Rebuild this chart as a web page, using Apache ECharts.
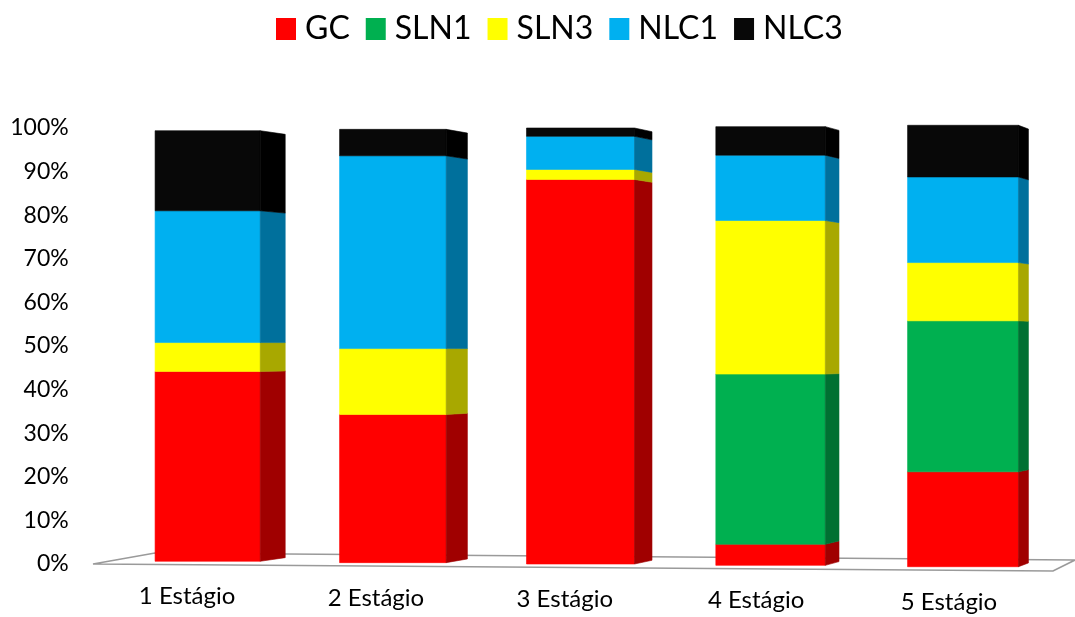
<!DOCTYPE html>
<html>
<head>
<meta charset="utf-8">
<script src="https://cdn.jsdelivr.net/npm/echarts@6/dist/echarts.min.js"></script>
<style>
  html, body { margin: 0; padding: 0; background: #fff; }
  #chart { width: 1075px; height: 617px; }
</style>
</head>
<body>
<div id="chart"></div>
<script>
// Categories (stages) and share of each formulation, in percent
const categories = ['1 Estágio', '2 Estágio', '3 Estágio', '4 Estágio', '5 Estágio'];
const GC   = [44.1, 34.2, 88.2,  4.8, 21.5];
const SLN1 = [ 0.0,  0.0,  0.0, 38.8, 34.2];
const SLN3 = [ 6.7, 15.2,  2.3, 35.0, 13.2];
const NLC1 = [30.6, 44.5,  7.6, 14.9, 19.4];
const NLC3 = [18.6,  6.1,  1.9,  6.5, 11.7];

const seriesNames = ['GC', 'SLN1', 'SLN3', 'NLC1', 'NLC3'];
const seriesValues = [GC, SLN1, SLN3, NLC1, NLC3];
const frontColors = ['#ff0000', '#00b050', '#ffff00', '#00b0f0', '#080808'];
const sideColors  = ['#a00000', '#007032', '#a8a800', '#00709c', '#000000'];

const FONT = 'Lato, "Open Sans", sans-serif';

// Running stack bases per category
const bases = categories.map(() => 0);
const stacked = seriesValues.map(vals => vals.map((v, i) => {
  const b = bases[i];
  bases[i] += v;
  return [i, v, b];
}));

// Draws one stacked segment as a box with a receding right side
function renderBox(front, side) {
  return function (params, api) {
    const idx = api.value(0), val = api.value(1), base = api.value(2);
    if (!val) return;
    const cs = params.coordSys;
    const band = api.size([1, 0])[0];
    const p0 = api.coord([idx, base]);
    const p1 = api.coord([idx, base + val]);
    const cy = cs.y + cs.height / 2;
    const t = idx - 2;
    const k = 1 + t * 0.0062;                    // perspective growth to the right
    const proj = (y, s) => cy + (y - cy) * k * s;
    const w = band * 0.572 * (1 + t * 0.0133);
    const cx = p0[0] + band * (0.0064 * t * t - 0.0122);
    const xl = cx - w / 2, xr = xl + w;
    const d = band * (0.1324 - 0.0199 * idx);    // visible depth of the side face
    const yB = proj(p0[1], 1), yT = proj(p1[1], 1);
    const yBb = proj(p0[1], 0.983), yTb = proj(p1[1], 0.983);
    return {
      type: 'group',
      children: [
        { type: 'rect', shape: { x: xl, y: yT, width: w, height: yB - yT },
          style: { fill: front, stroke: front, lineWidth: 0.6 } },
        { type: 'polygon', shape: { points: [[xr, yT], [xr + d, yTb], [xr + d, yBb], [xr, yB]] },
          style: { fill: side, stroke: side, lineWidth: 0.6 } }
      ]
    };
  };
}

// Floor plate under the bars
function renderFloor(params) {
  const cs = params.coordSys;
  const gx = cs.x, gr = cs.x + cs.width, gb = cs.y + cs.height;
  return {
    type: 'polygon',
    shape: { points: [[gx - 17.7, gb], [gx + 44.3, gb - 11], [gr + 20.1, gb - 4], [gr - 1.9, gb + 7]] },
    style: { fill: '#ffffff', stroke: '#9a9a9a', lineWidth: 1.6 }
  };
}

const labelShift = [[0, 36], [2, 36], [3, 36], [4, 31], [6, 23]];
const rich = {};
labelShift.forEach((s, i) => {
  rich['c' + i] = { fontSize: 24, fontFamily: FONT, color: '#000', padding: [s[0], s[1], 0, 0] };
});

const chart = echarts.init(document.getElementById('chart'), null, { renderer: 'canvas' });

const series = [{
  name: 'floor',
  type: 'custom',
  renderItem: renderFloor,
  data: [[0, 0, 0]],
  encode: { x: 0, y: 1 },
  silent: true,
  z: 1
}].concat(seriesNames.map((name, s) => ({
  name: name,
  type: 'custom',
  renderItem: renderBox(frontColors[s], sideColors[s]),
  data: stacked[s],
  encode: { x: 0, y: 1 },
  itemStyle: { color: frontColors[s] },
  z: 2
})));

chart.setOption({
  animation: false,
  legend: {
    data: seriesNames,
    top: 13,
    left: 276,
    padding: 0,
    icon: 'rect',
    itemWidth: 20,
    itemHeight: 22,
    itemGap: 16,
    textStyle: { fontSize: 32, fontFamily: FONT, color: '#000', padding: [0, 0, 0, 4] }
  },
  grid: { left: 110.7, right: 20.1, top: 128, bottom: 53 },
  xAxis: {
    type: 'category',
    data: categories,
    axisLine: { show: false },
    axisTick: { show: false },
    axisLabel: {
      margin: 20,
      formatter: (v, i) => '{c' + i + '|' + v + '}',
      rich: rich
    }
  },
  yAxis: {
    type: 'value',
    min: 0,
    max: 100,
    interval: 10,
    axisLine: { show: false },
    axisTick: { show: false },
    splitLine: { show: false },
    axisLabel: {
      formatter: '{value}%',
      fontSize: 23,
      fontFamily: FONT,
      color: '#000',
      margin: 42
    }
  },
  series: series
});
</script>
</body>
</html>
